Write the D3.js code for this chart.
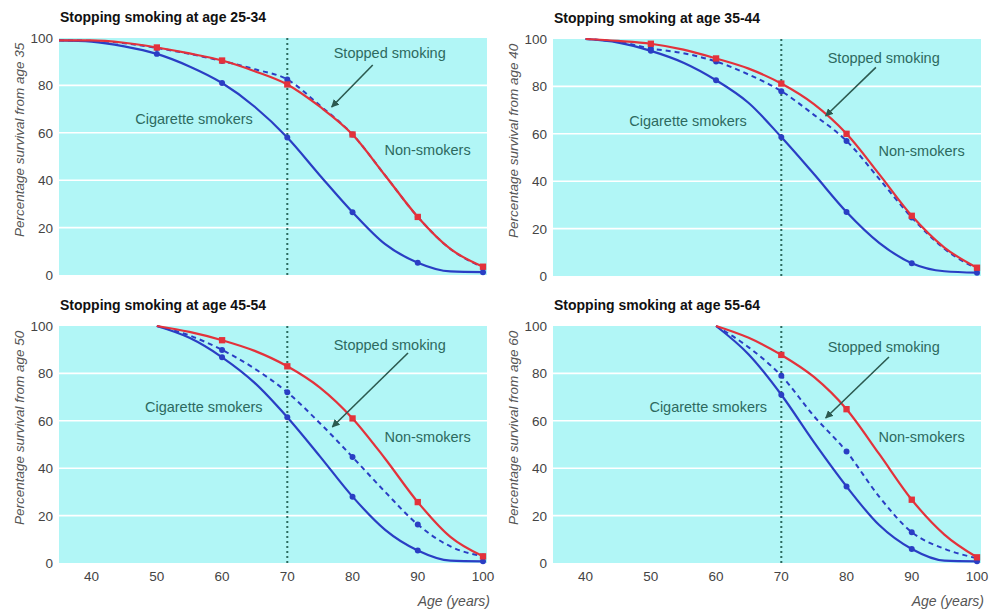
<!DOCTYPE html>
<html>
<head>
<meta charset="utf-8">
<script src="https://cdn.jsdelivr.net/npm/d3@7"></script>
<style>
   body { margin: 0; background: #fff; }
   text { font-family: "Liberation Sans", Arial, sans-serif; }
</style>
</head>
<body>
<div id="chart"></div>
<script>

// AGES (YEARS)
var ages = [35, 40, 45, 50, 55, 60, 65, 70, 75, 80, 85, 90, 95, 100];
var xTicks = [40, 50, 60, 70, 80, 90, 100];
var yTicks = [0, 20, 40, 60, 80, 100];

// STOPPING AT 25-34 (SURVIVAL FROM AGE 35)
var non2534 = [99, 99, 98, 96, 93.5, 90.5, 86, 80.4, 71, 59.3, 42, 24.5, 11, 3.5];
var stop2534 = [99, 98.8, 97.8, 95.8, 93.3, 90.3, 86.8, 82.5, 71.5, 59.3, 42, 24.5, 11, 3.2];
var cig2534 = [99, 98.5, 96.5, 93.3, 88, 81, 71, 58, 42, 26.5, 13, 5.2, 1.5, 1.2];

// STOPPING AT 35-44 (SURVIVAL FROM AGE 40)
var non3544 = [null, 100, 99.2, 98, 95.5, 91.8, 87.5, 81.2, 72.5, 60, 43, 25.4, 12, 3.5];
var stop3544 = [null, 100, 98.8, 96, 94, 90.5, 85, 78, 68, 57, 41, 24.7, 11.5, 3];
var cig3544 = [null, 100, 98.5, 95, 90, 82.6, 73, 58.6, 43, 27, 14, 5.4, 2, 1.4];

// STOPPING AT 45-54 (SURVIVAL FROM AGE 50)
var non4554 = [null, null, null, 100, 97.5, 94, 89.5, 83, 74, 61, 44, 25.7, 11, 2.8];
var stop4554 = [null, null, null, 100, 96, 89.9, 82, 72, 59, 44.7, 30, 16.2, 7, 2.8];
var cig4554 = [null, null, null, 100, 95, 86.8, 76, 61.5, 45, 28, 14, 5.3, 1, 0.7];

// STOPPING AT 55-64 (SURVIVAL FROM AGE 60)
var non5564 = [null, null, null, null, null, 100, 95, 87.8, 78.5, 64.9, 46, 26.7, 12, 2.4];
var stop5564 = [null, null, null, null, null, 100, 91, 79, 62, 47, 28, 13, 6, 2];
var cig5564 = [null, null, null, null, null, 100, 88, 71, 51, 32.3, 16, 5.9, 1, 0.7];

// PANEL SETTINGS
var settings = {
   width: 992,
   height: 611,
   plot: { left: 59, right: 483, top: 38, bottom: 275 },
   background: '#b1f6f6',
   red: '#e3323b',
   blue: '#2a3ec4',
   ink: '#2d6a5f',
   arrow: '#2c5a50'
}

var panels = [
   { title: 'Stopping smoking at age 25-34', from: 35, dx: 0, dy: 0, axis: false,
     non: non2534, stop: stop2534, cig: cig2534,
     notes: { cig: [55.7, 66], stop: [85.7, 93.5], non: [91.5, 52.7], arrow: [[83.1, 88.6], [76.8, 70.9]] } },
   { title: 'Stopping smoking at age 35-44', from: 40, dx: 494, dy: 1, axis: false,
     non: non3544, stop: stop3544, cig: cig3544,
     notes: { cig: [55.7, 65.3], stop: [85.7, 92], non: [91.5, 52.7], arrow: [[84.5, 88], [76.8, 67.5]] } },
   { title: 'Stopping smoking at age 45-54', from: 50, dx: 0, dy: 288, axis: true,
     non: non4554, stop: stop4554, cig: cig4554,
     notes: { cig: [57.2, 65.8], stop: [85.7, 92], non: [91.5, 53.2], arrow: [[88.5, 88.6], [76.9, 57.4]] } },
   { title: 'Stopping smoking at age 55-64', from: 60, dx: 494, dy: 288, axis: true,
     non: non5564, stop: stop5564, cig: cig5564,
     notes: { cig: [58.8, 65.8], stop: [85.7, 91], non: [91.5, 53.2], arrow: [[86.5, 86.9], [76.8, 61.2]] } }
];

// GENERATE CANVAS
var canvas = d3.select('#chart').append('svg')
   .attr('width', settings.width)
   .attr('height', settings.height)

// ARROW HEAD
canvas.append('defs').append('marker')
   .attr('id', 'head')
   .attr('viewBox', '0 0 10 10')
   .attr('refX', 9)
   .attr('refY', 5)
   .attr('markerWidth', 5)
   .attr('markerHeight', 5)
   .attr('orient', 'auto')
   .append('path')
      .attr('d', 'M0,0 L10,5 L0,10 z')
      .attr('fill', settings.arrow)

// X-SCALING
var xScale = d3.scaleLinear()
   .domain([35, 100])
   .range([settings.plot.left, settings.plot.right])

// Y-SCALING
var yScale = d3.scaleLinear()
   .domain([0, 100])
   .range([settings.plot.bottom, settings.plot.top])

panels.forEach(drawPanel);

// DRAW ONE PANEL
function drawPanel(panel) {

   var g = canvas.append('g')
      .attr('transform', 'translate(' + panel.dx + ',' + panel.dy + ')')

   // BACKGROUND
   g.append('rect')
      .attr('x', xScale(35))
      .attr('y', yScale(100))
      .attr('width', xScale(100) - xScale(35) + 4)
      .attr('height', yScale(0) - yScale(100))
      .attr('fill', settings.background)

   // GRIDLINES
   g.selectAll('.grid')
      .data([20, 40, 60, 80])
         .enter().append('line')
            .attr('x1', xScale(35))
            .attr('x2', xScale(100) + 4)
            .attr('y1', (d) => { return yScale(d) })
            .attr('y2', (d) => { return yScale(d) })
            .attr('stroke', '#fff')
            .attr('stroke-width', 1.6)

   // Y TICK LABELS
   g.selectAll('.ytick')
      .data(yTicks)
         .enter().append('text')
            .attr('x', xScale(35) - 6)
            .attr('y', (d) => { return yScale(d) + 5 })
            .attr('text-anchor', 'end')
            .attr('font-size', 13.5)
            .attr('fill', '#444')
            .text((d) => { return d })

   // X TICK LABELS
   if (panel.axis) {
      g.selectAll('.xtick')
         .data(xTicks)
            .enter().append('text')
               .attr('x', (d) => { return xScale(d) })
               .attr('y', yScale(0) + 18)
               .attr('text-anchor', 'middle')
               .attr('font-size', 13.5)
               .attr('fill', '#444')
               .text((d) => { return d })

      g.append('text')
         .attr('x', xScale(100) + 7)
         .attr('y', yScale(0) + 43)
         .attr('text-anchor', 'end')
         .attr('font-size', 14)
         .attr('font-style', 'italic')
         .attr('fill', '#555')
         .text('Age (years)')
   }

   // Y AXIS TITLE
   g.append('text')
      .attr('transform', 'translate(19,' + yScale(57) + ') rotate(-90)')
      .attr('text-anchor', 'middle')
      .attr('dy', '0.35em')
      .attr('font-size', 13.5)
      .attr('font-style', 'italic')
      .attr('fill', '#555')
      .text('Percentage survival from age ' + panel.from)

   // PANEL TITLE
   g.append('text')
      .attr('x', xScale(35) + 1)
      .attr('y', 22)
      .attr('font-size', 14)
      .attr('font-weight', 'bold')
      .attr('fill', '#111')
      .text(panel.title)

   // DOTTED LINE AT AGE 70
   g.append('line')
      .attr('x1', xScale(70))
      .attr('x2', xScale(70))
      .attr('y1', yScale(100))
      .attr('y2', yScale(0))
      .attr('stroke', settings.ink)
      .attr('stroke-width', 2)
      .attr('stroke-dasharray', '2,3')

   // GENERATE PATH METHOD
   var pathify = d3.line()
      .defined((d) => { return d != null })
      .x((d, i) => { return xScale(ages[i]) })
      .y((d) => { return yScale(d) })
      .curve(d3.curveMonotoneX)

   var series = [
      { values: panel.cig, color: settings.blue, dash: null, width: 2.2 },
      { values: panel.stop, color: settings.blue, dash: '5,4', width: 2 },
      { values: panel.non, color: settings.red, dash: null, width: 2.2 }
   ];

   series.forEach((s) => {
      g.append('path')
         .attr('fill', 'none')
         .attr('stroke', s.color)
         .attr('stroke-width', s.width)
         .attr('stroke-dasharray', s.dash)
         .attr('d', pathify(s.values))
   })

   // GENERATE DOTS FOR BREAKPOINTS
   series.forEach((s) => {
      var pts = s.values
         .map((d, i) => { return { age: ages[i], v: d } })
         .filter((p) => { return p.v != null && p.age % 10 == 0 && p.age >= 50 && p.age > panel.from })

      g.selectAll(null)
         .data(pts)
            .enter().append('path')
               .attr('transform', (p) => { return 'translate(' + xScale(p.age) + ',' + yScale(p.v) + ')' })
               .attr('d', d3.symbol()
                  .type(s.color == settings.red ? d3.symbolSquare : d3.symbolCircle)
                  .size(s.color == settings.red ? 40 : 28))
               .attr('fill', s.color)
   })

   // LABELS
   var labels = [
      { text: 'Cigarette smokers', pos: panel.notes.cig },
      { text: 'Stopped smoking', pos: panel.notes.stop },
      { text: 'Non-smokers', pos: panel.notes.non }
   ];

   g.selectAll('.label')
      .data(labels)
         .enter().append('text')
            .attr('x', (d) => { return xScale(d.pos[0]) })
            .attr('y', (d) => { return yScale(d.pos[1]) })
            .attr('dy', '0.35em')
            .attr('text-anchor', 'middle')
            .attr('font-size', 14.5)
            .attr('fill', settings.ink)
            .text((d) => { return d.text })

   // ARROW
   var a = panel.notes.arrow;
   g.append('line')
      .attr('x1', xScale(a[0][0]))
      .attr('y1', yScale(a[0][1]))
      .attr('x2', xScale(a[1][0]))
      .attr('y2', yScale(a[1][1]))
      .attr('stroke', settings.arrow)
      .attr('stroke-width', 1.6)
      .attr('marker-end', 'url(#head)')
}
</script>
</body>
</html>
